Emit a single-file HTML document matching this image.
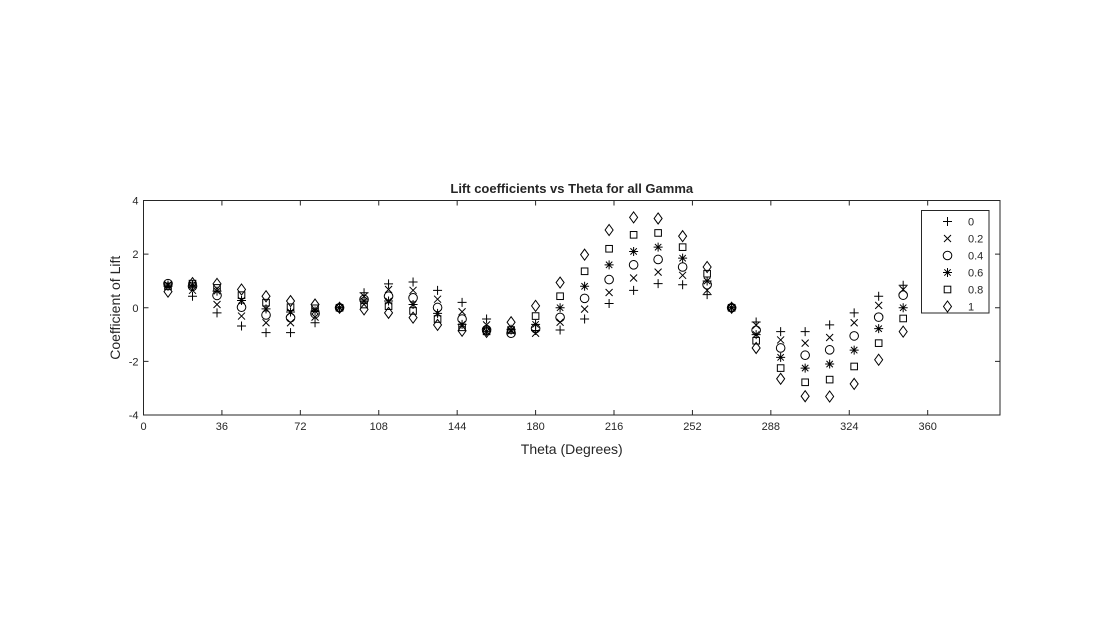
<!DOCTYPE html>
<html><head><meta charset="utf-8"><style>
body{margin:0;background:#fff;}
svg text{font-family:"Liberation Sans",Arial,sans-serif;fill:#262626;}
</style></head><body>
<svg id="chart" width="1106" height="638" xmlns="http://www.w3.org/2000/svg">
<rect width="1106" height="638" fill="#fff"/>
<g id="axes"></g><g id="marks"></g><g id="legend"></g>
</svg>
<script>
const thetas=[11.25,22.5,33.75,45,56.25,67.5,78.75,90,101.25,112.5,123.75,135,146.25,157.5,168.75,180,191.25,202.5,213.75,225,236.25,247.5,258.75,270,281.25,292.5,303.75,315,326.25,337.5,348.75];
const gammaLabels=["0","0.2","0.4","0.6","0.8","1"];
const cl0=[0.8,0.43,-0.19,-0.68,-0.93,-0.93,-0.56,0,0.56,0.89,0.96,0.65,0.2,-0.42,-0.8,-0.85,-0.83,-0.42,0.16,0.65,0.9,0.86,0.49,0,-0.53,-0.89,-0.89,-0.64,-0.19,0.43,0.84];
const cl2=[0.85,0.65,0.12,-0.31,-0.56,-0.56,-0.35,0,0.43,0.68,0.65,0.32,-0.15,-0.64,-0.86,-0.95,-0.54,-0.05,0.57,1.11,1.33,1.21,0.65,0,-0.65,-1.2,-1.32,-1.11,-0.56,0.09,0.68];
const cl4=[0.9,0.8,0.46,0.02,-0.27,-0.37,-0.22,0,0.31,0.43,0.37,0.01,-0.42,-0.82,-0.95,-0.78,-0.36,0.35,1.05,1.6,1.8,1.52,0.86,0,-0.84,-1.5,-1.77,-1.57,-1.05,-0.35,0.47];
const cl6=[0.85,0.85,0.62,0.27,-0.04,-0.16,-0.12,0,0.25,0.25,0.12,-0.21,-0.62,-0.88,-0.83,-0.62,0,0.8,1.6,2.1,2.26,1.85,1.0,0,-1.0,-1.85,-2.25,-2.1,-1.58,-0.78,0];
const cl8=[0.8,0.9,0.74,0.47,0.19,0.02,-0.02,0,0.12,0.06,-0.12,-0.42,-0.73,-0.88,-0.83,-0.31,0.43,1.36,2.2,2.72,2.79,2.26,1.27,0,-1.23,-2.25,-2.78,-2.68,-2.19,-1.32,-0.4];
const cl10=[0.6,0.92,0.89,0.68,0.43,0.25,0.12,0,-0.06,-0.19,-0.37,-0.64,-0.86,-0.9,-0.54,0.07,0.94,1.98,2.9,3.37,3.33,2.67,1.52,0,-1.5,-2.65,-3.3,-3.31,-2.84,-1.94,-0.89];
const series=[cl0,cl2,cl4,cl6,cl8,cl10];
const markers=["plus","cross","circle","star","square","diamond"];
const xTicks=[0,36,72,108,144,180,216,252,288,324,360];
const yTicks=[-4,-2,0,2,4];

const L=143.5,R=1000,T=200.5,B=415,XMAX=393.2,YMIN=-4,YMAX=4;
const sx=v=>L+(v/XMAX)*(R-L);
const sy=v=>B-(v-YMIN)/(YMAX-YMIN)*(B-T);
const NS="http://www.w3.org/2000/svg";
function mk(tag,attrs,parent){const e=document.createElementNS(NS,tag);for(const k in attrs)e.setAttribute(k,attrs[k]);parent.appendChild(e);return e;}
const axes=document.getElementById('axes'),marks=document.getElementById('marks'),leg=document.getElementById('legend');

const box=mk('rect',{x:L,y:T,width:R-L,height:B-T,fill:'#fff',stroke:'#262626','stroke-width':1},axes);


xTicks.forEach(t=>{const x=sx(t);
 mk('line',{x1:x,y1:B,x2:x,y2:B-5,stroke:'#262626'},axes);
 mk('line',{x1:x,y1:T,x2:x,y2:T+5,stroke:'#262626'},axes);
 const tx=mk('text',{x:x,y:B+15,'text-anchor':'middle','font-size':11},axes);tx.textContent=t;
 
 
});
yTicks.forEach(t=>{const y=sy(t);
 mk('line',{x1:L,y1:y,x2:L+5,y2:y,stroke:'#262626'},axes);
 mk('line',{x1:R,y1:y,x2:R-5,y2:y,stroke:'#262626'},axes);
 const tx=mk('text',{x:L-5,y:y+4,'text-anchor':'end','font-size':11},axes);tx.textContent=t;
 
 
});
const title=mk('text',{x:(L+R)/2,y:193,'text-anchor':'middle','font-size':13,'font-weight':'bold'},axes);title.textContent='Lift coefficients vs Theta for all Gamma';


const xl=mk('text',{x:(L+R)/2,y:454,'text-anchor':'middle','font-size':14},axes);xl.textContent='Theta (Degrees)';


const yl=mk('text',{x:0,y:0,'text-anchor':'middle','font-size':14,transform:`translate(120,${(T+B)/2}) rotate(-90)`},axes);yl.textContent='Coefficient of Lift';



function marker(type,x,y,p){const s=4.5,a={stroke:'#000','stroke-width':1,fill:'none'};let e;
 if(type==='plus')e=mk('path',Object.assign({d:`M${x-s} ${y}H${x+s}M${x} ${y-s}V${y+s}`},a),p);
 else if(type==='cross'){const c=3.5;e=mk('path',Object.assign({d:`M${x-c} ${y-c}L${x+c} ${y+c}M${x-c} ${y+c}L${x+c} ${y-c}`},a),p);}
 else if(type==='circle')e=mk('circle',Object.assign({cx:x,cy:y,r:4.3},a),p);
 else if(type==='star'){const c=3.2;e=mk('path',Object.assign({d:`M${x-s} ${y}H${x+s}M${x} ${y-s}V${y+s}M${x-c} ${y-c}L${x+c} ${y+c}M${x-c} ${y+c}L${x+c} ${y-c}`},a),p);}
 else if(type==='square')e=mk('rect',Object.assign({x:x-3.3,y:y-3.3,width:6.6,height:6.6},a),p);
 else e=mk('path',Object.assign({d:`M${x} ${y-5.5}L${x+4} ${y}L${x} ${y+5.5}L${x-4} ${y}Z`},a),p);
 return e;}
series.forEach((vals,si)=>{const g=mk('g',{},marks);
 
 
 vals.forEach((v,i)=>{const m=marker(markers[si],sx(thetas[i]),sy(v),g);
  
  
 });
});
const lb=mk('rect',{x:921.5,y:210.5,width:67.5,height:102.5,fill:'#fff',stroke:'#262626'},leg);


gammaLabels.forEach((lab,i)=>{const y=221.5+i*17;const g=mk('g',{},leg);
 
 
 marker(markers[i],947.5,y,g);
 const t=mk('text',{x:968,y:y+4,'font-size':11},g);t.textContent=lab;});
</script>
</body></html>
